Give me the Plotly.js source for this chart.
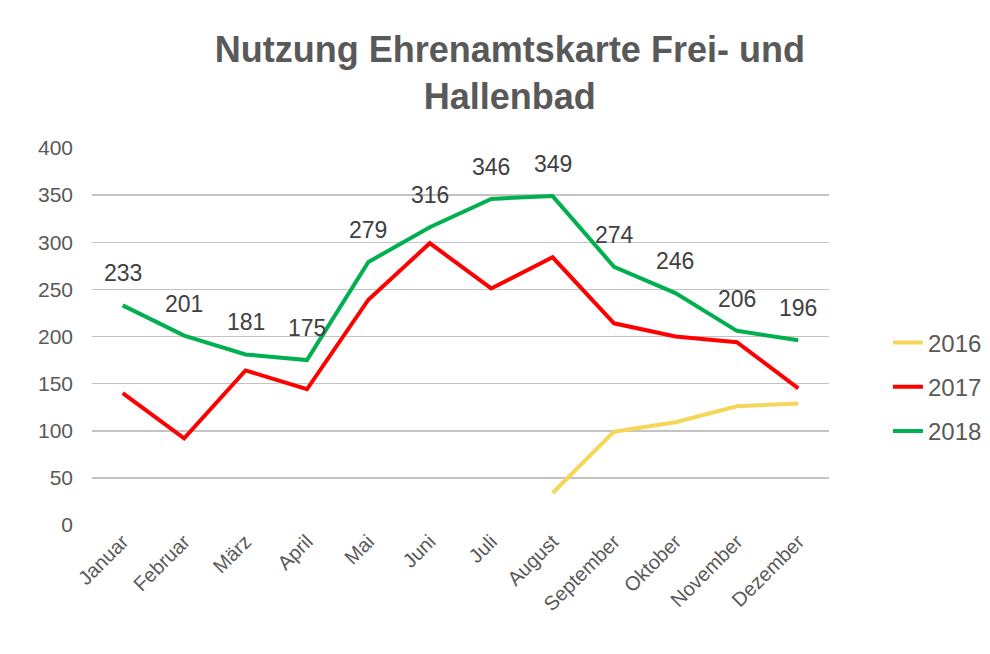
<!DOCTYPE html>
<html>
<head>
<meta charset="utf-8">
<script src="https://cdn.plot.ly/plotly-3.0.1.min.js"></script>
<style>html,body{margin:0;padding:0;background:#fff;}#chart{width:990px;height:654px;}</style>
</head>
<body>
<div id="chart"></div>
<script>
const months = ["Januar","Februar","März","April","Mai","Juni","Juli","August","September","Oktober","November","Dezember"];
const values2016 = [null,null,null,null,null,null,null,34,99,109,126,129];
const values2017 = [140,92,164,144,239,299,251,284,214,200,194,145];
const values2018 = [233,201,181,175,279,316,346,349,274,246,206,196];
const yTicks = [0,50,100,150,200,250,300,350,400];

const FONT = "Liberation Sans, Arial, sans-serif";

const traces = [
  {name:"2016", x:months, y:values2016, mode:"lines", line:{color:"#f5d658", width:4}, legendgroup:"a", connectgaps:false},
  {name:"2017", x:months, y:values2017, mode:"lines", line:{color:"#ff0000", width:4}, legendgroup:"b"},
  {name:"2018", x:months, y:values2018, mode:"lines", line:{color:"#00b050", width:4}, legendgroup:"c"}
];

const annotations = months.map((m,i)=>({
  x:m, y:values2018[i], xref:"x", yref:"y", text:String(values2018[i]),
  showarrow:false, yshift:32, yanchor:"middle", xanchor:"center",
  font:{family:FONT, size:23, color:"#404040"}
}));

const layout = {
  width:990, height:654,
  paper_bgcolor:"#ffffff", plot_bgcolor:"#ffffff",
  margin:{l:92, r:161, t:148, b:129, autoexpand:false},
  title:{text:"<b>Nutzung Ehrenamtskarte Frei- und<br>Hallenbad</b>", font:{family:FONT, size:36, color:"#595959"},
         x:0.515, xref:"container", xanchor:"center", y:0.905, yref:"container", yanchor:"middle"},
  xaxis:{type:"category", range:[-0.5, 11.5], autorange:false, tickangle:-45, tickfont:{family:FONT, size:20, color:"#595959"},
         showgrid:false, zeroline:false, showline:false, ticks:"", fixedrange:true, automargin:false},
  yaxis:{range:[0,400], tickvals:yTicks, ticktext:yTicks.map(String), tickfont:{family:FONT, size:21, color:"#595959"},
         showgrid:true, gridcolor:"#c3c3c3", gridwidth:1.5, zeroline:false, showline:false, ticks:"",
         ticklabelstandoff:18, fixedrange:true, automargin:false},
  showlegend:true,
  legend:{x:1.08, xanchor:"left", y:0.366, yanchor:"middle", font:{family:FONT, size:24, color:"#595959"},
          traceorder:"grouped", tracegroupgap:10, bgcolor:"rgba(0,0,0,0)"},
  annotations:annotations
};

Plotly.newPlot("chart", traces, layout, {displayModeBar:false, staticPlot:true});
</script>
</body>
</html>
